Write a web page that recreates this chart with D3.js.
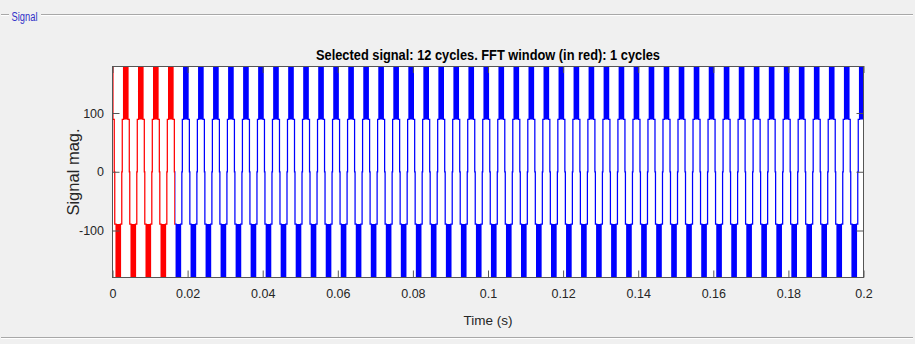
<!DOCTYPE html>
<html><head><meta charset="utf-8">
<script src="https://cdn.jsdelivr.net/npm/d3@7"></script>
<style>
html,body{margin:0;padding:0;background:#f0f0f0;}
svg{display:block;font-family:"Liberation Sans",Arial,Helvetica,sans-serif;}
</style></head><body><svg id="c" width="915" height="344"></svg>
<script>
// ---------------- data ----------------
const panelTitle = "Signal";
const titleText = "Selected signal: 12 cycles. FFT window (in red): 1 cycles";
const xLabel = "Time (s)";
const yLabel = "Signal mag.";
const timeDomain = [0, 0.2];
const magDomain = [-180, 180];
const xTickValues = [0, 0.02, 0.04, 0.06, 0.08, 0.1, 0.12, 0.14, 0.16, 0.18, 0.2];
const xTickLabels = ["0", "0.02", "0.04", "0.06", "0.08", "0.1", "0.12", "0.14", "0.16", "0.18", "0.2"];
const yTickValues = [-100, 0, 100];
const yTickLabels = ["-100", "0", "100"];
const fftWindowEnd = 1 / 60;      // 1 cycle (red part)
const wavePeriod = 0.004;         // s, repeating pattern
const firstPeriodStart = 0.0026;  // s
const periodCount = 52;
// positive half-period of the waveform: [time offset (s), magnitude]
// dense spikes beyond the axis limit form the solid bars
const halfShape = [
  [0, 0], [0, 89], [0.00035, 89],
  [0.00035, 260], [0.00035, 89], [0.00050, 260], [0.00050, 89],
  [0.00065, 260], [0.00065, 89], [0.00080, 260], [0.00080, 89],
  [0.00095, 260], [0.00095, 89], [0.00110, 260], [0.00110, 89],
  [0.00125, 260], [0.00125, 89], [0.00140, 260], [0.00140, 89],
  [0.00152, 260], [0.00152, 89],
  [0.00187, 89], [0.00187, 0], [0.00200, 0]
];
// negative half-period (half-wave symmetric)
const halfShapeNeg = [
  [0.002, 0], [0.002, -89], [0.00235, -89],
  [0.00235, -260], [0.00235, -89], [0.00250, -260], [0.00250, -89],
  [0.00265, -260], [0.00265, -89], [0.00280, -260], [0.00280, -89],
  [0.00295, -260], [0.00295, -89], [0.00310, -260], [0.00310, -89],
  [0.00325, -260], [0.00325, -89], [0.00340, -260], [0.00340, -89],
  [0.00352, -260], [0.00352, -89],
  [0.00387, -89], [0.00387, 0], [0.00400, 0]
];

// ---------------- layout ----------------
const svg = d3.select("#c");
const plot = {left: 112.5, right: 863.5, top: 66, bottom: 277.5};
const x = d3.scaleLinear().domain(timeDomain).range([plot.left, plot.right]);
const y = d3.scaleLinear().domain(magDomain).range([plot.bottom, plot.top]);

// group box
svg.append("rect").attr("width", 915).attr("height", 344).attr("fill", "#f0f0f0");
const etched = (x1, x2, yy) => {
  svg.append("line").attr("x1", x1).attr("x2", x2).attr("y1", yy).attr("y2", yy).attr("stroke", "#a8a8a8");
  svg.append("line").attr("x1", x1).attr("x2", x2).attr("y1", yy + 1).attr("y2", yy + 1).attr("stroke", "#ffffff");
};
etched(1, 9, 14.5);
etched(41, 913, 14.5);
etched(1, 913, 337.5);
svg.append("text").attr("x", 11.5).attr("y", 21).attr("font-size", 12.5).attr("fill", "#3030c8")
  .attr("textLength", 26).attr("lengthAdjust", "spacingAndGlyphs").text(panelTitle);

// plot background
svg.append("rect").attr("x", plot.left).attr("y", plot.top)
  .attr("width", plot.right - plot.left).attr("height", plot.bottom - plot.top).attr("fill", "#fff");

const defs = svg.append("defs");
const xs = x(fftWindowEnd);
defs.append("clipPath").attr("id", "clipRed").append("rect")
  .attr("x", plot.left).attr("y", plot.top).attr("width", xs - plot.left).attr("height", plot.bottom - plot.top);
defs.append("clipPath").attr("id", "clipBlue").append("rect")
  .attr("x", xs).attr("y", plot.top).attr("width", plot.right - xs).attr("height", plot.bottom - plot.top);

// signal points
const pts = [];
for (let k = -1; k < periodCount; k++) {
  const base = firstPeriodStart + k * wavePeriod;
  halfShape.concat(halfShapeNeg).forEach(([dt, v]) => pts.push([base + dt, v]));
}
const line = d3.line().x(d => x(d[0])).y(d => y(d[1]));
svg.append("path").datum(pts).attr("d", line).attr("fill", "none")
  .attr("stroke", "#0000ff").attr("stroke-width", 1.25).attr("clip-path", "url(#clipBlue)");
svg.append("path").datum(pts).attr("d", line).attr("fill", "none")
  .attr("stroke", "#ff0000").attr("stroke-width", 1.25).attr("clip-path", "url(#clipRed)");

// axes
const axCol = "#262626";
const tick = 7;
const gx = svg.append("g").attr("transform", `translate(0,${plot.bottom})`)
  .call(d3.axisBottom(x).tickValues(xTickValues).tickFormat((d, i) => xTickLabels[i]).tickSize(-tick).tickPadding(12));
const gxt = svg.append("g").attr("transform", `translate(0,${plot.top})`)
  .call(d3.axisTop(x).tickValues(xTickValues).tickFormat("").tickSize(-tick));
const gy = svg.append("g").attr("transform", `translate(${plot.left},0)`)
  .call(d3.axisLeft(y).tickValues(yTickValues).tickFormat((d, i) => yTickLabels[i]).tickSize(-tick).tickPadding(8.5));
const gyr = svg.append("g").attr("transform", `translate(${plot.right},0)`)
  .call(d3.axisRight(y).tickValues(yTickValues).tickFormat("").tickSize(-tick));
[gx, gxt, gy, gyr].forEach(g => {
  g.select(".domain").remove();
  g.selectAll("line").attr("stroke", "#555");
  g.selectAll("text").attr("font-size", 12.5).attr("fill", axCol)
    .attr("font-family", '"Liberation Sans",Arial,sans-serif');
});
// box
svg.append("rect").attr("x", plot.left).attr("y", plot.top + 0.5)
  .attr("width", plot.right - plot.left).attr("height", plot.bottom - plot.top - 0.5)
  .attr("fill", "none").attr("stroke", "#555").attr("stroke-width", 1);

// labels
svg.append("text").attr("x", (plot.left + plot.right) / 2).attr("y", 60)
  .attr("text-anchor", "middle").attr("font-size", 14).attr("font-weight", "bold").attr("fill", "#000")
  .attr("textLength", 344).attr("lengthAdjust", "spacingAndGlyphs").text(titleText);
svg.append("text").attr("x", (plot.left + plot.right) / 2).attr("y", 325)
  .attr("text-anchor", "middle").attr("font-size", 13.5).attr("fill", axCol).text(xLabel);
svg.append("text").attr("transform", `translate(79,172) rotate(-90)`)
  .attr("text-anchor", "middle").attr("font-size", 16.5).attr("fill", axCol).text(yLabel);
</script></body></html>
